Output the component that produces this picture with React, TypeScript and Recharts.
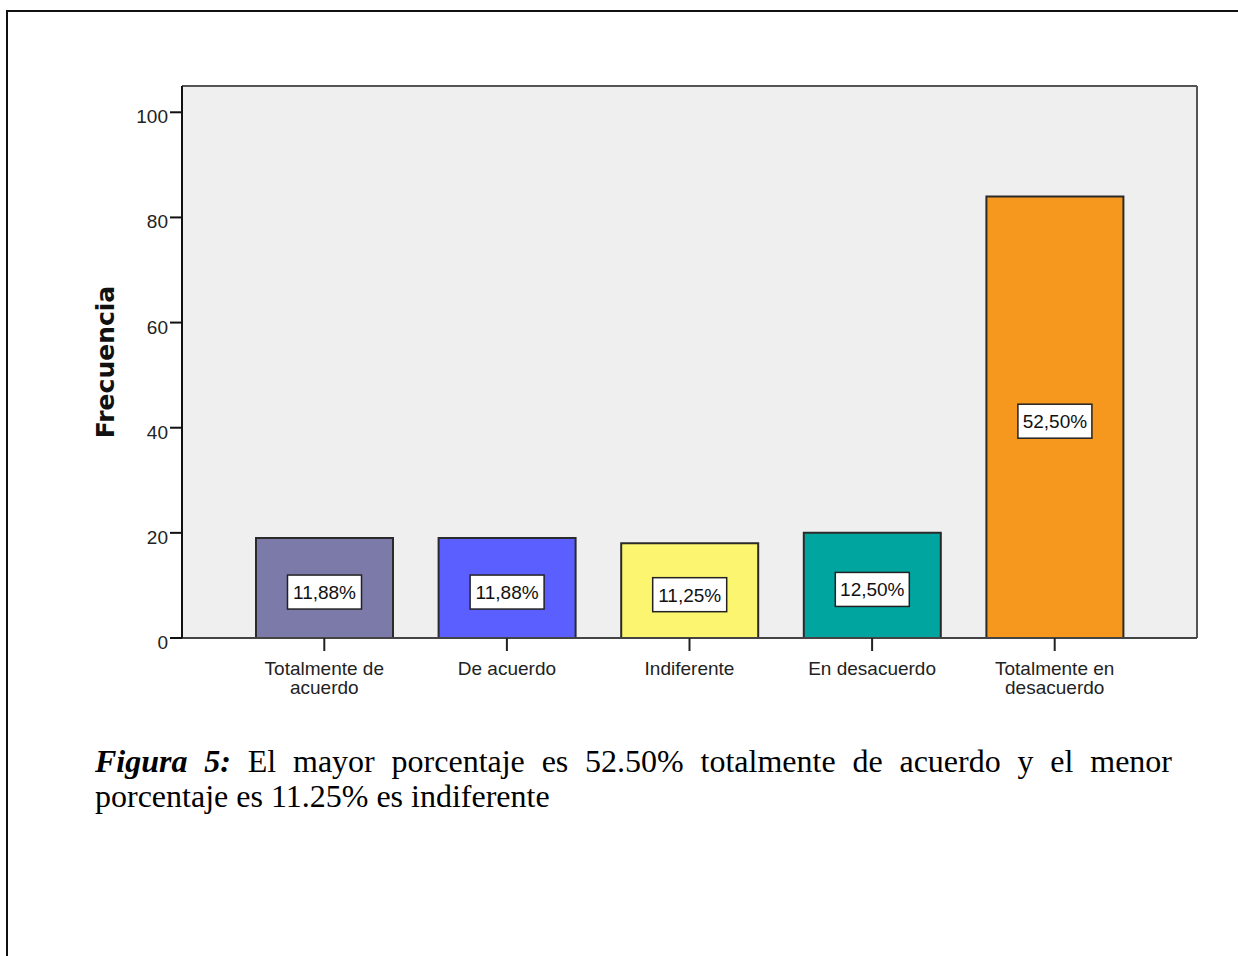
import React from 'react';
import {
  BarChart,
  Bar,
  XAxis,
  YAxis,
  Cell,
  LabelList,
  CartesianGrid,
} from 'recharts';

// Frequencies per answer option (n = 160)
const categories = [
  'Totalmente de acuerdo',
  'De acuerdo',
  'Indiferente',
  'En desacuerdo',
  'Totalmente en desacuerdo',
];
const categoryLines = [
  ['Totalmente de', 'acuerdo'],
  ['De acuerdo'],
  ['Indiferente'],
  ['En desacuerdo'],
  ['Totalmente en', 'desacuerdo'],
];
const frequencies = [19, 19, 18, 20, 84];
const barColors = ['#7b7aa8', '#5b5fff', '#fbf56f', '#00a5a0', '#f7981e'];
const yTicks = [0, 20, 40, 60, 80, 100];
const yMax = 105;

const total = frequencies.reduce((a, b) => a + b, 0);

const data = categories.map((name, i) => ({
  name,
  value: frequencies[i],
}));

const pctLabel = (v: number) => ((v / total) * 100).toFixed(2).replace('.', ',') + '%';

const CHART_FONT = '"Liberation Sans", Arial, sans-serif';

// frame lines on the top and right edge of the plot area
const topEdge = ({ offset }: any) => [offset.top];
const rightEdge = ({ offset }: any) => [offset.left + offset.width];

function XTick(props: any) {
  const { x, y, payload } = props;
  const lines: string[] = categoryLines[categories.indexOf(payload.value)] || [payload.value];
  return (
    <text x={x} y={y} textAnchor="middle" fill="#222" fontSize={19} fontFamily={CHART_FONT}>
      {lines.map((l, i) => (
        <tspan key={i} x={x} dy={i === 0 ? 22 : 19}>
          {l}
        </tspan>
      ))}
    </text>
  );
}

function YTick(props: any) {
  const { x, y, payload } = props;
  return (
    <text x={x} y={y + 11} textAnchor="end" fill="#222" fontSize={19} fontFamily={CHART_FONT}>
      {payload.value}
    </text>
  );
}

function YTitle(props: any) {
  const { viewBox } = props;
  const cx = viewBox.x - 17;
  const cy = viewBox.y + viewBox.height / 2;
  return (
    <text
      x={cx}
      y={cy}
      transform={`rotate(-90 ${cx} ${cy})`}
      textAnchor="middle"
      dominantBaseline="central"
      fontSize={25}
      fontWeight="bold"
      fontFamily='"DejaVu Sans", sans-serif'
      fill="#111"
    >
      Frecuencia
    </text>
  );
}

function PctBox(props: any) {
  const { x, y, width, height, value } = props;
  const cx = x + width / 2;
  const cy = y + height / 2 + 4;
  const w = 74;
  const h = 34;
  return (
    <g>
      <rect x={cx - w / 2} y={cy - h / 2} width={w} height={h} fill="#fff" stroke="#222" strokeWidth={1.5} />
      <text
        x={cx}
        y={cy + 7}
        textAnchor="middle"
        fontSize={19}
        fontFamily={CHART_FONT}
        fill="#111"
      >
        {pctLabel(value)}
      </text>
    </g>
  );
}

export default function App() {
  return (
    <div
      style={{
        position: 'fixed',
        inset: 0,
        overflow: 'hidden',
        background: '#fff',
      }}
    >
      {/* page frame */}
      <div
        style={{
          position: 'absolute',
          left: 6,
          top: 10,
          width: 1300,
          height: 1000,
          borderTop: '2px solid #111',
          borderLeft: '2px solid #111',
        }}
      />

      <div style={{ position: 'absolute', left: 0, top: 0 }}>
        <BarChart
          width={1238}
          height={720}
          data={data}
          margin={{ top: 86, right: 41, bottom: 0, left: 122 }}
        >
          <CartesianGrid
            fill="#efefef"
            fillOpacity={1}
            stroke="#555"
            strokeWidth={2}
            horizontalCoordinatesGenerator={topEdge}
            verticalCoordinatesGenerator={rightEdge}
          />
          <XAxis
            dataKey="name"
            padding={{ left: 51, right: 51 }}
            tickSize={13}
            tick={<XTick />}
            interval={0}
            axisLine={{ stroke: '#444', strokeWidth: 2 }}
            tickLine={{ stroke: '#222', strokeWidth: 2 }}
            height={82}
          />
          <YAxis
            domain={[0, yMax]}
            ticks={yTicks}
            width={60}
            tickSize={12}
            tick={<YTick />}
            axisLine={{ stroke: '#111', strokeWidth: 2 }}
            tickLine={{ stroke: '#111', strokeWidth: 2 }}
            label={<YTitle />}
          />
          <Bar dataKey="value" barSize={137} stroke="#2a2a2a" strokeWidth={2} isAnimationActive={false}>
            {data.map((d, i) => (
              <Cell key={d.name} fill={barColors[i]} />
            ))}
            <LabelList dataKey="value" content={<PctBox />} />
          </Bar>
        </BarChart>
      </div>

      <div
        style={{
          position: 'absolute',
          left: 95,
          top: 744,
          width: 1077,
          fontFamily: '"Liberation Serif", "Times New Roman", serif',
          fontSize: 32,
          lineHeight: '35px',
          color: '#000',
        }}
      >
        <div style={{ textAlign: 'justify', textAlignLast: 'justify' }}>
          <b>
            <i>Figura 5:</i>
          </b>{' '}
          El mayor porcentaje es 52.50% totalmente de acuerdo y el menor
        </div>
        <div>porcentaje es 11.25% es indiferente</div>
      </div>
    </div>
  );
}
